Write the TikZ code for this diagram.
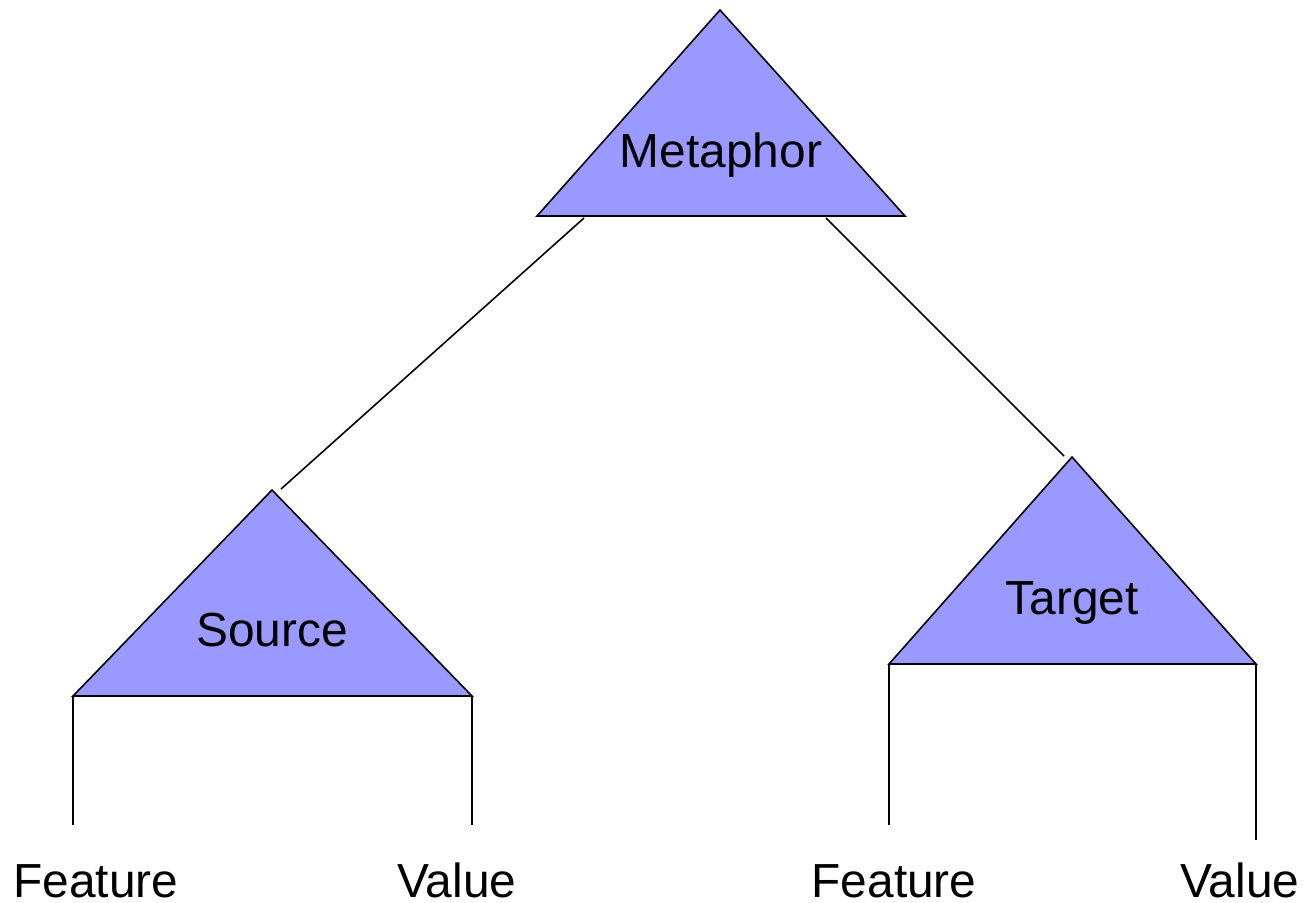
\documentclass[tikz,border=0pt]{standalone}
\usepackage{fontspec}
\setmainfont{Liberation Sans}
\definecolor{tri}{HTML}{9999FF}
\begin{document}
\begin{tikzpicture}[x=0.01cm,y=-0.01cm,
  trishape/.style={draw=black,fill=tri,line width=0.45pt,line join=miter},
  conn/.style={draw=black,line width=0.45pt},
  lab/.style={font=\fontsize{13.6pt}{15pt}\selectfont,inner sep=0pt,anchor=base}]
\useasboundingbox (0,0) rectangle (1306,902);
% Metaphor triangle
\coordinate (mA) at (720,10);
\coordinate (mL) at (537,216);
\coordinate (mR) at (905,216);
\path[trishape] (mA) -- (mL) -- (mR) -- cycle;
\node[lab] (met) at (721,167) {Metaphor};
% Source triangle
\coordinate (sA) at (272,490);
\coordinate (sL) at (73,696);
\coordinate (sR) at (472,696);
\path[trishape] (sA) -- (sL) -- (sR) -- cycle;
\node[lab] (src) at (272,646) {Source};
% Target triangle
\coordinate (tA) at (1072,457);
\coordinate (tL) at (889,664);
\coordinate (tR) at (1256,664);
\path[trishape] (tA) -- (tL) -- (tR) -- cycle;
\node[lab] (tgt) at (1072,614) {Target};
% connectors
\coordinate (m1) at (584,218);
\coordinate (s1) at (281,489);
\coordinate (m2) at (826,218);
\coordinate (t1) at (1064,456);
\draw[conn] (m1) -- (s1);
\draw[conn] (m2) -- (t1);
% legs
\coordinate (sLe) at (73,825);
\coordinate (sRe) at (472,825);
\coordinate (tLe) at (889,825);
\coordinate (tRe) at (1256,840);
\draw[conn] (sL) -- (sLe);
\draw[conn] (sR) -- (sRe);
\draw[conn] (tL) -- (tLe);
\draw[conn] (tR) -- (tRe);
% labels
\node[lab] (f1) at (96,897) {Feature};
\node[lab] (v1) at (457,897) {Value};
\node[lab] (f2) at (894,897) {Feature};
\node[lab] (v2) at (1240,897) {Value};
\end{tikzpicture}
\end{document}
